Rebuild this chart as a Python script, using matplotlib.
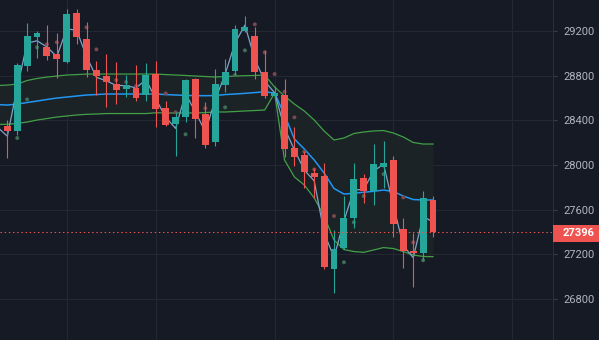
import numpy as np
import matplotlib.pyplot as plt
from matplotlib.patches import Rectangle

plt.rcParams['font.family'] = ['Roboto', 'DejaVu Sans']

# candle data (one bar per day)
opens = [28352, 28305, 28889, 29149, 29057, 28994, 28922, 29359, 29128, 28851,
         28797, 28725, 28681, 28690, 28627, 28815, 28510, 28367, 28427, 28770,
         28457, 28206, 28716, 28844, 29203, 29155, 28836, 28618, 28627, 28150,
         28090, 27926, 27902, 27069, 27260, 27522, 27886, 27770, 27985, 28045,
         27427, 27230, 27212, 27687]
highs = [28403, 28911, 29274, 29200, 29254, 29182, 29397, 29397, 29278, 28931,
         28994, 28922, 28806, 28896, 28913, 28931, 28573, 28472, 28770, 28775,
         28561, 28860, 28949, 29254, 29337, 29239, 29030, 28707, 28770, 28343,
         28125, 27976, 28021, 27418, 27722, 28021, 27919, 28188, 28215, 28081,
         27523, 27388, 27767, 27722]
lows = [28065, 28269, 28845, 28956, 28940, 28782, 28910, 29081, 28791, 28627,
        28522, 28546, 28612, 28573, 28573, 28343, 28349, 28083, 28388, 28239,
        28155, 28173, 28656, 28806, 29190, 28770, 28603, 28591, 28075, 27990,
        27797, 27702, 27066, 26851, 27250, 27433, 27657, 27642, 27791, 27352,
        27080, 26910, 27149, 27352]
closes = [28305, 28896, 29155, 29182, 28979, 28949, 29352, 29144, 28851, 28800,
          28746, 28672, 28714, 28603, 28806, 28502, 28358, 28430, 28761, 28412,
          28179, 28725, 28833, 29218, 29233, 28836, 28621, 28642, 28143, 28075,
          27940, 27895, 27089, 27246, 27528, 27875, 27770, 28009, 28018, 27469,
          27230, 27212, 27702, 27396]

# indicator lines, starting one bar before the first visible candle
typical = [28340, 28258, 28692, 29091, 29113, 29058, 28971, 29220, 29207, 28973,
           28786, 28754, 28713, 28711, 28691, 28764, 28592, 28427, 28328, 28640,
           28475, 28298, 28586, 28813, 29093, 29253, 28948, 28751, 28647, 28329,
           28136, 27954, 27858, 27392, 27172, 27500, 27776, 27782, 27946, 28008,
           27634, 27278, 27170, 27539, 27490]
upper_band = [28712, 28716, 28725, 28757, 28775, 28788, 28797, 28806, 28810, 28815,
              28815, 28815, 28815, 28815, 28815, 28815, 28815, 28810, 28806, 28802,
              28797, 28793, 28788, 28793, 28797, 28800, 28802, 28806, 28699, 28618,
              28546, 28484, 28403, 28305, 28224, 28242, 28282, 28296, 28305, 28309,
              28287, 28251, 28202, 28188, 28188]
middle_band = [28542, 28537, 28546, 28560, 28573, 28587, 28600, 28609, 28618, 28627,
               28631, 28636, 28636, 28636, 28636, 28636, 28636, 28631, 28627, 28624,
               28621, 28621, 28622, 28631, 28636, 28642, 28649, 28656, 28645, 28448,
               28233, 28143, 28045, 27928, 27790, 27740, 27747, 27756, 27765, 27776,
               27763, 27722, 27691, 27687, 27687]
lower_band = [28363, 28365, 28372, 28385, 28403, 28416, 28430, 28439, 28448, 28454,
              28457, 28461, 28461, 28461, 28461, 28461, 28468, 28466, 28466, 28466,
              28466, 28470, 28475, 28475, 28479, 28484, 28488, 28493, 28645, 28045,
              27893, 27821, 27705, 27543, 27328, 27243, 27225, 27218, 27239, 27261,
              27252, 27225, 27194, 27181, 27179]

# small marker dots, one per candle
dot_values = [28330, 28242, 28588, 29054, 29081, 29099, 29100, 29250, 29233, 29036,
              28770, 28761, 28743, 28707, 28700, 28650, 28642, 28472, 28275, 28600,
              28508, 28450, 28517, 28806, 29027, 29260, 29009, 28815, 28657, 28427,
              28119, 27961, 27500, 27543, 27129, 27487, 27722, 27900, 27919, 27750,
              27710, 27308, 27147, 27550]

price_ticks = [26800, 27200, 27600, 28000, 28400, 28800, 29200]
last_price = 27396
grid_bars = [6, 15, 27, 39, 51]

bg = '#161a25'
up_col = '#26a69a'
down_col = '#ef5350'
grid_col = '#242833'
text_col = '#b2b5be'

o = np.array(opens)
h = np.array(highs)
l = np.array(lows)
c = np.array(closes)
x = np.arange(len(o))
xl = np.arange(-1, len(o))

fig = plt.figure(figsize=(5.99, 3.40), dpi=100, facecolor=bg)
ax = fig.add_axes([0, 0, 553 / 599, 1])
ax.set_facecolor(bg)

# grid
for p in price_ticks:
    ax.axhline(p, color=grid_col, lw=0.75, zorder=0)
for g in grid_bars:
    ax.axvline(g, color=grid_col, lw=0.75, zorder=0)

# bands
ax.fill_between(xl, lower_band, upper_band, color='#1b2327', zorder=1, lw=0)
ax.plot(xl, upper_band, color='#43a047', lw=0.9, zorder=2)
ax.plot(xl, lower_band, color='#43a047', lw=0.9, zorder=2)
ax.plot(xl, middle_band, color='#2196f3', lw=1.1, zorder=2)
ax.plot(xl, typical, color='#7fa3c8', lw=0.9, zorder=2.2)

# dots
dv = np.array(dot_values)
dcol = np.where(dv > c, '#7c4850', '#3f6e55')
ax.scatter(x, dv, s=8, c=dcol, zorder=2.5, lw=0)

# candles
cols = np.where(c >= o, up_col, down_col)
ax.vlines(x, l, h, colors=cols, lw=0.8, zorder=3)
body = np.maximum(np.abs(c - o), 12)
ax.bar(x, body, bottom=np.minimum(o, c), width=0.7, color=cols, lw=0, zorder=3.5)

# last price line
ax.axhline(last_price, color=down_col, lw=0.75, ls=(0, (1.4, 2.6)), zorder=4)

ax.set_xlim(-0.74, 55.12)
ax.set_ylim(26433, 29478)
ax.set_xticks([])
ax.yaxis.tick_right()
ax.set_yticks(price_ticks)
ax.set_yticklabels([str(p) for p in price_ticks])
ax.tick_params(axis='y', colors='#3a3e4a', labelcolor=text_col, labelsize=8,
               length=3, width=0.75, pad=4.3)
for s in ['top', 'left', 'bottom']:
    ax.spines[s].set_visible(False)
ax.spines['right'].set_color('#2a2e39')
ax.spines['right'].set_linewidth(0.75)

# last price label
fig.add_artist(Rectangle((553 / 599, (340 - 241.5) / 340), 46 / 599, 17 / 340,
                         transform=fig.transFigure, color=down_col, lw=0))
fig.text(563 / 599, (340 - 233) / 340, str(last_price), color='white',
         fontsize=8, fontweight='bold', va='center', ha='left')

fig.savefig('out.png', dpi=100, facecolor=bg)
